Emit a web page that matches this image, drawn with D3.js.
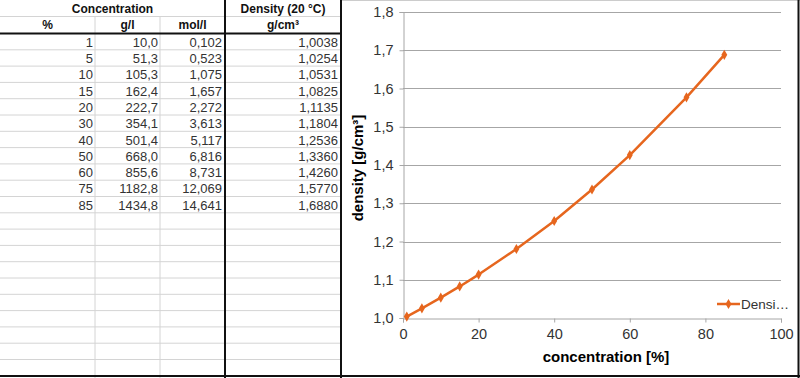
<!DOCTYPE html>
<html>
<head>
<meta charset="utf-8">
<script src="https://cdn.jsdelivr.net/npm/d3@7"></script>
<style>
  body { margin: 0; background: #fff; }
  svg { display: block; font-family: "Liberation Sans", Arial, sans-serif; }
</style>
</head>
<body>
<svg id="chart"></svg>
<script>
// table + chart data
const percent = [1, 5, 10, 15, 20, 30, 40, 50, 60, 75, 85];
const gramsPerLitre = [10.0, 51.3, 105.3, 162.4, 222.7, 354.1, 501.4, 668.0, 855.6, 1182.8, 1434.8];
const molPerLitre = [0.102, 0.523, 1.075, 1.657, 2.272, 3.613, 5.117, 6.816, 8.731, 12.069, 14.641];
const density = [1.0038, 1.0254, 1.0531, 1.0825, 1.1135, 1.1804, 1.2536, 1.3360, 1.4260, 1.5770, 1.6880];
const xTicks = [0, 20, 40, 60, 80, 100];
const yTicks = [1.0, 1.1, 1.2, 1.3, 1.4, 1.5, 1.6, 1.7, 1.8];

const width = 800, height = 378;
const orange = "#e6661e";

const loc = d3.formatLocale({ decimal: ",", thousands: "", grouping: [3], currency: ["", ""] });
const f1 = loc.format(".1f"), f3 = loc.format(".3f"), f4 = loc.format(".4f");

const svg = d3.select("#chart").attr("width", width).attr("height", height);

// ---- spreadsheet table ----
const colX = [0, 95, 160, 225, 341];
const headMid = 16.5, headBottom = 33.5, rowH = 16.3;
const nRows = 21;

const table = svg.append("g");

// horizontal cell lines
const rowLines = d3.range(1, nRows).map(i => headBottom + i * rowH);
table.selectAll("line.row")
  .data(rowLines)
  .join("line")
  .attr("x1", 0).attr("x2", colX[4])
  .attr("y1", d => d).attr("y2", d => d)
  .attr("stroke", "#d4d4d4");

table.append("line")
  .attr("x1", 0).attr("x2", colX[4])
  .attr("y1", headMid).attr("y2", headMid)
  .attr("stroke", "#d4d4d4");

// thin vertical cell lines
table.selectAll("line.col")
  .data([colX[1], colX[2]])
  .join("line")
  .attr("x1", d => d).attr("x2", d => d)
  .attr("y1", headMid).attr("y2", height)
  .attr("stroke", "#d4d4d4");

// thick borders
table.append("line")
  .attr("x1", 0).attr("x2", colX[4])
  .attr("y1", headBottom).attr("y2", headBottom)
  .attr("stroke", "#111").attr("stroke-width", 2);
table.append("line")
  .attr("x1", colX[3]).attr("x2", colX[3])
  .attr("y1", 0).attr("y2", height)
  .attr("stroke", "#111").attr("stroke-width", 2);
table.append("line")
  .attr("x1", 0).attr("x2", width)
  .attr("y1", 376).attr("y2", 376)
  .attr("stroke", "#111").attr("stroke-width", 2);

// headers
const headers = [
  { t: "Concentration", x: (colX[0] + colX[3]) / 2, y: 8.5 },
  { t: "Density (20 °C)", x: (colX[3] + colX[4]) / 2, y: 8.5 },
  { t: "%", x: (colX[0] + colX[1]) / 2, y: 25 },
  { t: "g/l", x: (colX[1] + colX[2]) / 2, y: 25 },
  { t: "mol/l", x: (colX[2] + colX[3]) / 2, y: 25 },
  { t: "g/cm³", x: (colX[3] + colX[4]) / 2, y: 25 },
];
table.selectAll("text.head")
  .data(headers)
  .join("text")
  .attr("x", d => d.x).attr("y", d => d.y)
  .attr("dy", "0.35em")
  .attr("text-anchor", "middle")
  .attr("font-size", 12).attr("font-weight", "bold")
  .attr("fill", "#111")
  .text(d => d.t);

// body cells
const cols = [
  { vals: percent, fmt: d => String(d), right: colX[1] - 2 },
  { vals: gramsPerLitre, fmt: f1, right: colX[2] - 2 },
  { vals: molPerLitre, fmt: f3, right: colX[3] - 3 },
  { vals: density, fmt: f4, right: colX[4] - 3 },
];
cols.forEach(c => {
  table.append("g")
    .selectAll("text")
    .data(c.vals)
    .join("text")
    .attr("x", c.right)
    .attr("y", (d, i) => headBottom + i * rowH + rowH / 2 + 0.5)
    .attr("dy", "0.35em")
    .attr("text-anchor", "end")
    .attr("font-size", 13)
    .attr("fill", "#333")
    .text(c.fmt);
});

// ---- chart panel ----
svg.append("line")
  .attr("x1", 341).attr("x2", width).attr("y1", 0.5).attr("y2", 0.5)
  .attr("stroke", "#ccc");
svg.append("line")
  .attr("x1", 341).attr("x2", 341).attr("y1", 0).attr("y2", height)
  .attr("stroke", "#111").attr("stroke-width", 2);
svg.append("line")
  .attr("x1", 798.5).attr("x2", 798.5).attr("y1", 0).attr("y2", height)
  .attr("stroke", "#111").attr("stroke-width", 2);

const x = d3.scaleLinear().domain([0, 100]).range([403, 781]);
const y = d3.scaleLinear().domain([1.0, 1.8]).range([318, 12]);

// gridlines
svg.append("g")
  .selectAll("line")
  .data(yTicks.slice(1))
  .join("line")
  .attr("x1", x(0)).attr("x2", x(100))
  .attr("y1", d => Math.round(y(d)) + 0.5).attr("y2", d => Math.round(y(d)) + 0.5)
  .attr("stroke", "#a6a6a6");

const yAxis = svg.append("g")
  .attr("transform", `translate(${x(0) + 0.5},0)`)
  .call(d3.axisLeft(y).tickValues(yTicks).tickFormat(loc.format(".1f")).tickSize(4).tickPadding(6));
const xAxis = svg.append("g")
  .attr("transform", `translate(0,${y(1.0) + 0.5})`)
  .call(d3.axisBottom(x).tickValues(xTicks).tickSize(4).tickPadding(6));

[xAxis, yAxis].forEach(a => {
  a.select(".domain").attr("stroke", "#a6a6a6");
  a.selectAll(".tick line").attr("stroke", "#a6a6a6");
  a.selectAll(".tick text")
    .attr("font-family", "Liberation Sans, Arial, sans-serif")
    .attr("font-size", 14.5).attr("fill", "#333");
});

// axis titles
svg.append("text")
  .attr("x", 606).attr("y", 357)
  .attr("dy", "0.35em")
  .attr("text-anchor", "middle")
  .attr("font-size", 15).attr("font-weight", "bold")
  .text("concentration [%]");
svg.append("text")
  .attr("transform", "translate(358,168) rotate(-90)")
  .attr("dy", "0.35em")
  .attr("text-anchor", "middle")
  .attr("font-size", 15).attr("font-weight", "bold")
  .text("density [g/cm³]");

// series
const pts = percent.map((p, i) => [p, density[i]]);
svg.append("path")
  .datum(pts)
  .attr("fill", "none")
  .attr("stroke", orange)
  .attr("stroke-width", 2.5)
  .attr("stroke-linejoin", "round")
  .attr("d", d3.line().x(d => x(d[0])).y(d => y(d[1])));

const diamond = d3.symbol().type(d3.symbolDiamond).size(30);
svg.append("g")
  .selectAll("path")
  .data(pts)
  .join("path")
  .attr("transform", d => `translate(${x(d[0])},${y(d[1])})`)
  .attr("d", diamond)
  .attr("fill", orange);

// legend
const legend = svg.append("g").attr("transform", "translate(717,304)");
legend.append("line")
  .attr("x1", 0).attr("x2", 23)
  .attr("stroke", orange).attr("stroke-width", 2.5);
legend.append("path").attr("transform", "translate(11.5,0)").attr("d", diamond).attr("fill", orange);
legend.append("text")
  .attr("x", 24).attr("dy", "0.35em")
  .attr("font-size", 13.5).attr("fill", "#333")
  .text("Densi…");
</script>
</body>
</html>
